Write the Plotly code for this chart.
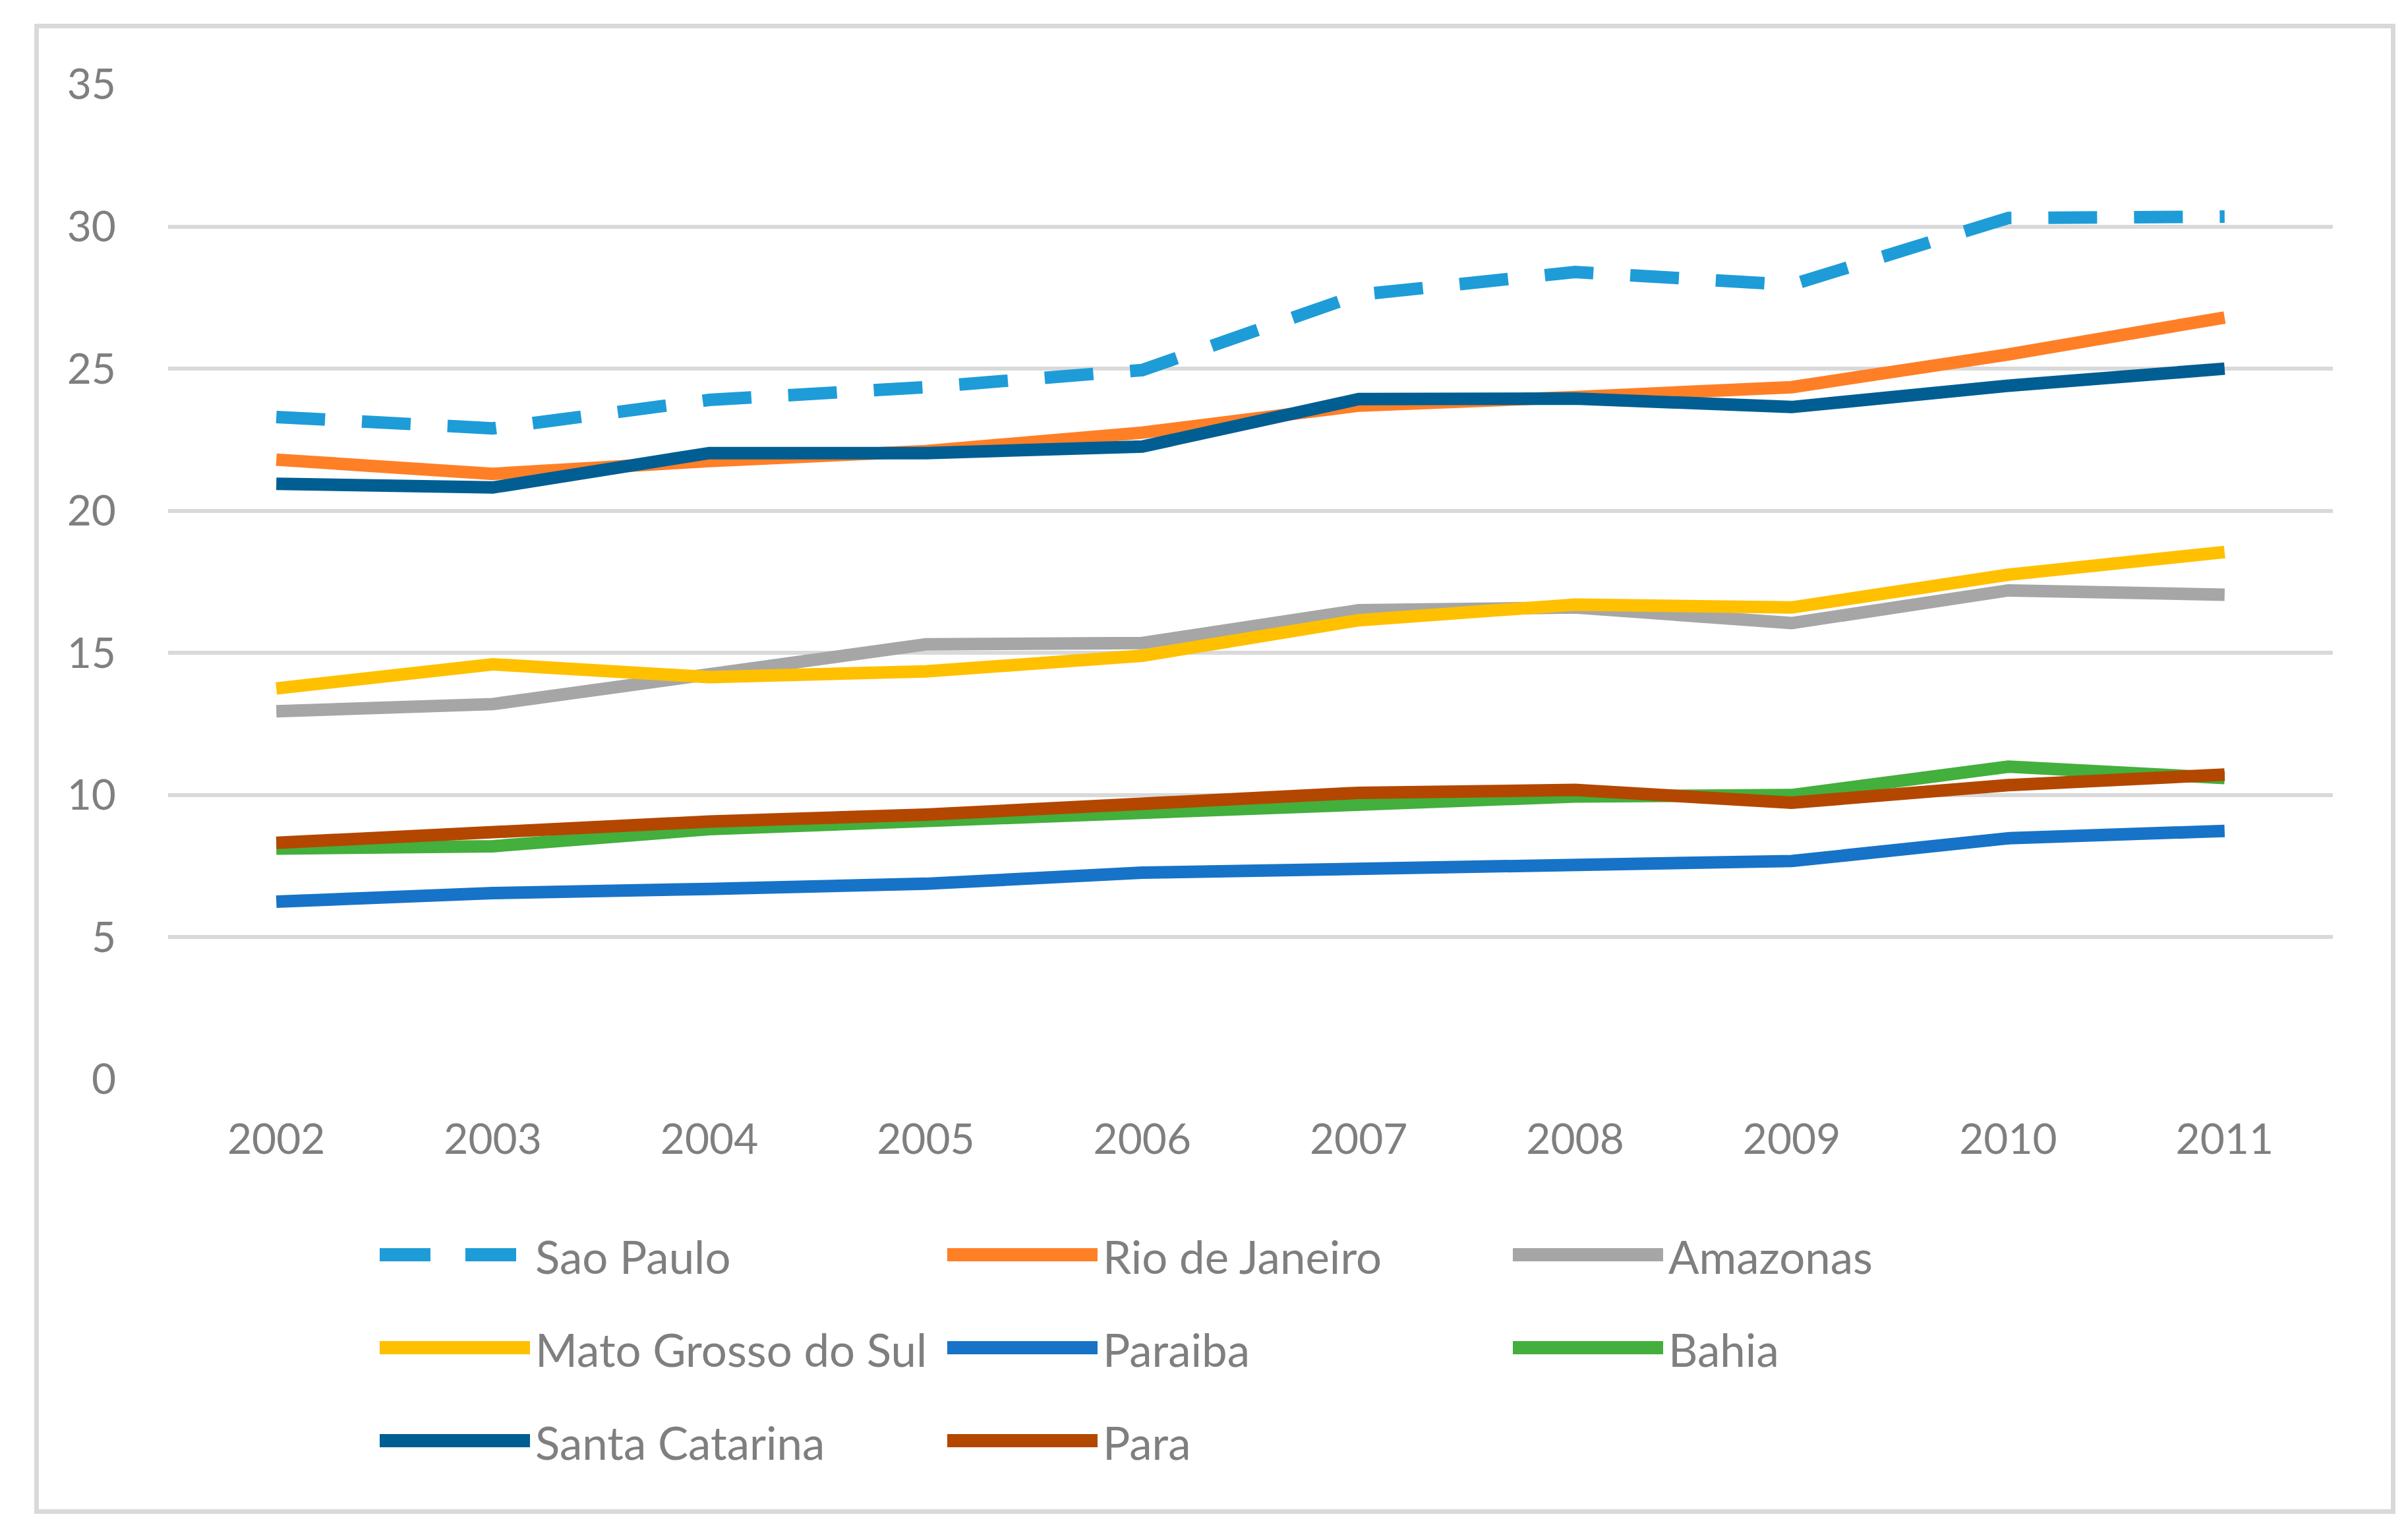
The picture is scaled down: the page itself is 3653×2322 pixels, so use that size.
import plotly.graph_objects as go

years = ["2002", "2003", "2004", "2005", "2006", "2007", "2008", "2009", "2010", "2011"]

sao_paulo = [23.3, 22.9, 23.9, 24.35, 24.95, 27.6, 28.4, 27.95, 30.3, 30.35]
rio_de_janeiro = [21.8, 21.3, 21.75, 22.1, 22.75, 23.7, 24.0, 24.35, 25.5, 26.8]
amazonas = [12.95, 13.2, 14.25, 15.3, 15.35, 16.5, 16.6, 16.05, 17.2, 17.05]
mato_grosso_do_sul = [13.75, 14.6, 14.15, 14.35, 14.9, 16.15, 16.7, 16.6, 17.75, 18.55]
paraiba = [6.25, 6.55, 6.7, 6.88, 7.27, 7.39, 7.6, 7.68, 8.48, 8.74]
bahia = [8.12, 8.2, 8.8, 9.1, 9.4, 9.7, 9.95, 10.0, 11.0, 10.6]
santa_catarina = [20.95, 20.82, 22.03, 22.03, 22.26, 23.93, 23.95, 23.65, 24.4, 25.0]
para = [8.32, 8.69, 9.07, 9.31, 9.75, 10.08, 10.18, 9.73, 10.35, 10.72]

series_names = ["Sao Paulo", "Rio de Janeiro", "Amazonas", "Mato Grosso do Sul",
                "Paraiba", "Bahia", "Santa Catarina", "Para"]
series_values = [sao_paulo, rio_de_janeiro, amazonas, mato_grosso_do_sul,
                 paraiba, bahia, santa_catarina, para]
series_colors = ["#1E9CD8", "#FF7F27", "#A6A6A6", "#FFC000",
                 "#1773C7", "#43AF3C", "#005E92", "#B34700"]
series_dash = ["74px,56px", "solid", "solid", "solid", "solid", "solid", "solid", "solid"]

y_ticks = [0, 5, 10, 15, 20, 25, 30, 35]

W, H = 3653, 2322
PL, PR, PT, PB = 247, 3531, 120, 1629  # plot area in pixels

def px_x(x):
    return (x - PL) / (PR - PL)

def px_y(y):
    return (PB - y) / (PB - PT)

FONT = "Lato"
GRAY = "#7F7F7F"

fig = go.Figure()
for name, vals, col, dash in zip(series_names, series_values, series_colors, series_dash):
    fig.add_trace(go.Scatter(
        x=years, y=vals, name=name, mode="lines",
        line=dict(color=col, width=19, dash=dash),
        showlegend=False,
    ))

shapes = []
annotations = []
# outer border
shapes.append(dict(type="rect", xref="paper", yref="paper",
                   x0=px_x(47.5), x1=px_x(3622.5), y0=px_y(2284.5), y1=px_y(31.5),
                   line=dict(color="#D9D9D9", width=7), fillcolor="rgba(0,0,0,0)", layer="below"))

# legend (3 columns)
col_x = [568, 1429, 2287]
row_y = [1895, 2036, 2177]
for i, (name, col, dash) in enumerate(zip(series_names, series_colors, series_dash)):
    cx = col_x[i % 3]
    ry = row_y[i // 3]
    if dash == "solid":
        x1 = cx + 228
        d = "solid"
    else:
        x1 = cx + 207
        d = "77px,53px"
    shapes.append(dict(type="line", xref="paper", yref="paper",
                       x0=px_x(cx), x1=px_x(x1), y0=px_y(ry), y1=px_y(ry),
                       line=dict(color=col, width=20, dash=d)))
    annotations.append(dict(xref="paper", yref="paper", x=px_x(cx + 234), y=px_y(ry + 2),
                            text=name, showarrow=False, xanchor="left", yanchor="middle",
                            font=dict(family=FONT, size=69, color=GRAY)))

fig.update_layout(
    width=W, height=H,
    margin=dict(l=PL, r=W - PR, t=PT, b=H - PB, pad=0),
    paper_bgcolor="white", plot_bgcolor="white",
    showlegend=False,
    shapes=shapes, annotations=annotations,
    font=dict(family=FONT, size=64, color=GRAY),
)
fig.update_xaxes(
    type="category", range=[-0.5, 9.5], showgrid=False, zeroline=False, showline=False,
    ticks="", ticklabelstandoff=48, tickfont=dict(family=FONT, size=64, color=GRAY),
)
fig.update_yaxes(
    range=[0, 35], tickvals=y_ticks, showgrid=True, gridcolor="#D9D9D9", gridwidth=6,
    zeroline=False, showline=False, ticks="", ticklabelstandoff=78,
    tickfont=dict(family=FONT, size=64, color=GRAY),
)

fig.write_html("out.html")
